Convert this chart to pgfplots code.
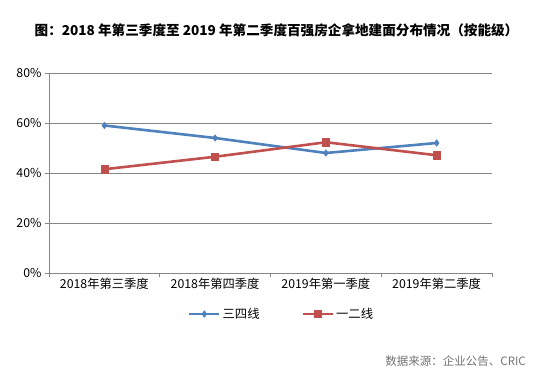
\documentclass[border=0pt]{standalone}
\usepackage{fontspec}
\setmainfont{Noto Sans CJK SC}
\usepackage{pgfplots}
\pgfplotsset{compat=1.18}
\definecolor{sblue}{HTML}{4F81BD}
\definecolor{sred}{HTML}{C0504D}
\definecolor{gridc}{HTML}{868686}
\begin{document}
\begin{tikzpicture}
\useasboundingbox (0,0) rectangle (541pt,371pt);
\node[font=\fontsize{13.6}{15}\selectfont\bfseries] at (276.5pt,341pt) {图：2018 年第三季度至 2019 年第二季度百强房企拿地建面分布情况（按能级）};
\node[font=\fontsize{11.5}{13}\selectfont, text=gray!90!black, anchor=east, inner sep=0pt] at (526pt,10pt) {数据来源：企业公告、CRIC};
\begin{axis}[
  at={(49pt,98pt)}, anchor=south west,
  scale only axis, width=443pt, height=200pt,
  xmin=-0.5, xmax=3.5, ymin=0, ymax=80,
  axis x line*=bottom, axis y line*=left,
  axis line style={draw=gridc, line width=0.8pt, -},
  ytick={0,20,40,60,80},
  yticklabels={0\%,20\%,40\%,60\%,80\%},
  ymajorgrids, major grid style={draw=gridc, line width=0.8pt},
  xtick={-0.5,0.5,1.5,2.5,3.5},
  xticklabels={,,,,},
  extra x ticks={0,1,2,3},
  extra x tick labels={2018年第三季度,2018年第四季度,2019年第一季度,2019年第二季度},
  extra x tick style={major tick length=0pt, xticklabel style={yshift=-2pt}},
  tick align=outside, major tick length=4pt,
  tick style={draw=gridc, line width=0.8pt},
  ticklabel style={font=\fontsize{12.3}{14}\selectfont},
  legend style={at={(0.525,-0.205)}, anchor=center, draw=none, legend columns=2,
    font=\fontsize{12.3}{14}\selectfont,
    /tikz/every even column/.append style={column sep=40pt}},
  legend image code/.code={\draw[mark repeat=2,mark phase=2] plot coordinates {(0pt,0pt)(15pt,0pt)(30pt,0pt)};},
]
\addplot[color=sblue, line width=2.6pt, mark=diamond*, mark size=3.3pt, mark options={solid, line width=0.5pt}] coordinates {(0,59) (1,54) (2,48) (3,52)};
\addlegendentry{三四线}
\addplot[color=sred, line width=2.6pt, mark=square*, mark size=3.6pt, mark options={solid, line width=0.5pt}] coordinates {(0,41.5) (1,46.5) (2,52.3) (3,47.1)};
\addlegendentry{一二线}
\end{axis}
\end{tikzpicture}
\end{document}
